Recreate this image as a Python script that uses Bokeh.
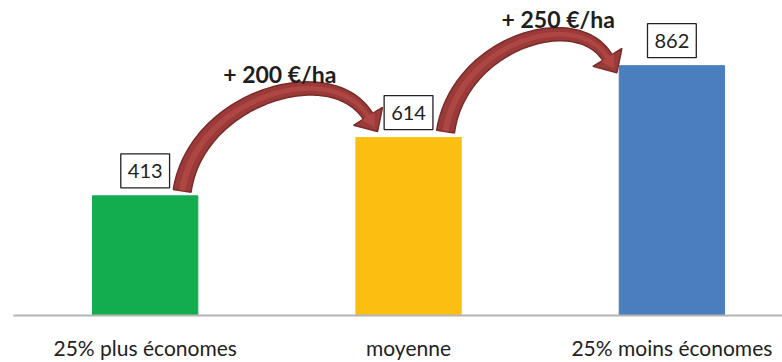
import numpy as np
from bokeh.plotting import figure
from bokeh.models import Range1d, FixedTicker, Label
from bokeh.embed import file_html
from bokeh.resources import INLINE

# --- data -------------------------------------------------------------
categories = ["25% plus économes", "moyenne", "25% moins économes"]
costs = [413, 614, 862]
bar_colors = ["#13AD4F", "#FCBF11", "#4A7EBC"]
gain_labels = ["+ 200 €/ha", "+ 250 €/ha"]

# --- layout -----------------------------------------------------------
W, H = 782, 362
LEFT, BOTTOM = 13, 46
X0, X1 = -0.5, 2.42
Y0, Y1 = 0, 1087
FW, FH = W - LEFT, H - BOTTOM
FONT = "Lato"


def to_data(px, py):
    """screen pixels (y down, frame origin at top-left of canvas) -> data"""
    x = X0 + (np.asarray(px, float) - LEFT) * (X1 - X0) / FW
    y = Y1 - np.asarray(py, float) * (Y1 - Y0) / FH
    return x, y


def to_px(x, y):
    return LEFT + (x - X0) * FW / (X1 - X0), (Y1 - y) * FH / (Y1 - Y0)


def unit(v):
    v = np.asarray(v, float)
    return v / np.linalg.norm(v)


def curved_arrow(S, tip, d0, d1, a, b, w0, w1, head_len, head_half, n=80):
    """Tapered cubic-Bezier arrow outline in screen pixels."""
    S, tip = np.asarray(S, float), np.asarray(tip, float)
    d0, d1 = unit(d0), unit(d1)
    B = tip - d1 * head_len
    P1 = S + a * d0
    P2 = B - b * d1
    t = np.linspace(0, 1, n)[:, None]
    pts = (1 - t) ** 3 * S + 3 * (1 - t) ** 2 * t * P1 + 3 * (1 - t) * t ** 2 * P2 + t ** 3 * B
    der = 3 * (1 - t) ** 2 * (P1 - S) + 6 * (1 - t) * t * (P2 - P1) + 3 * t ** 2 * (B - P2)
    tan = der / np.linalg.norm(der, axis=1)[:, None]
    nrm = np.column_stack([-tan[:, 1], tan[:, 0]])
    half = (w0 + (w1 - w0) * t[:, 0]) / 2
    side_a = pts + nrm * half[:, None]
    side_b = pts - nrm * half[:, None]
    nb = np.array([-d1[1], d1[0]])
    outline = np.vstack([side_a, B + nb * head_half, tip, B - nb * head_half, side_b[::-1]])
    core_a = pts + nrm * (half * 0.35)[:, None]
    core_b = pts - nrm * (half * 0.35)[:, None]
    core = np.vstack([core_a, B + nb * head_half * 0.45, tip - d1 * 5, B - nb * head_half * 0.45, core_b[::-1]])
    apex = pts[np.argmin(pts[:, 1])]
    return outline, core, apex


p = figure(
    width=W, height=H,
    x_range=Range1d(X0, X1), y_range=Range1d(Y0, Y1),
    y_axis_location=None,
    min_border_left=LEFT, min_border_right=0, min_border_top=0, min_border_bottom=BOTTOM,
    output_backend="svg", toolbar_location=None,
)
p.outline_line_color = None
p.xgrid.visible = False
p.ygrid.visible = False
p.background_fill_color = "white"
p.border_fill_color = "white"

idx = list(range(len(categories)))
p.vbar(x=idx, top=costs, width=0.4, color=bar_colors)

ax = p.xaxis[0]
ax.ticker = FixedTicker(ticks=idx)
ax.major_label_overrides = {i: c for i, c in zip(idx, categories)}
ax.axis_line_color = "#B4B4B4"
ax.axis_line_width = 2
ax.major_tick_line_color = None
ax.minor_tick_line_color = None
ax.major_tick_out = 0
ax.major_tick_in = 0
ax.minor_tick_out = 0
ax.minor_tick_in = 0
ax.major_label_standoff = 19
ax.major_label_text_font = FONT
ax.major_label_text_font_size = "21px"
ax.major_label_text_color = "#222222"

# boxed value labels above each bar
for i, v in zip(idx, costs):
    p.add_layout(Label(
        x=i, y=v, y_offset=25, text=str(v),
        text_align="center", text_baseline="middle",
        text_font=FONT, text_font_size="20px", text_color="#222222",
        background_fill_color="white", border_line_color="#222222", border_line_width=1.3,
        padding=dict(left=7, right=7, top=10, bottom=10),
    ))

# curved arrows between consecutive bars: (tail offset, tip offset, bend a, bend b, text shift)
arrow_geom = [
    ((37, -5), (-31, -6), 95, 70, 0),
    ((37, -6), (-55, 7), 90, 60, 27),
]
for k, ((tx, ty), (hx, hy), a, b, shift) in enumerate(arrow_geom):
    cx0, top0 = to_px(idx[k], costs[k])
    cx1, top1 = to_px(idx[k + 1], costs[k + 1])
    S = (cx0 + tx, top0 + ty)
    tip = (cx1 + hx, top1 + hy)
    outline, core, apex = curved_arrow(S, tip, (0.15, -1), (9, 14.5), a, b,
                                       w0=18, w1=11, head_len=18, head_half=17)
    ox, oy = to_data(outline[:, 0], outline[:, 1])
    p.patch(ox, oy, fill_color="#9A3B39", line_color="#7A2A29", line_width=1.5)
    cx, cy = to_data(core[:, 0], core[:, 1])
    p.patch(cx, cy, fill_color="#C0504D", fill_alpha=0.55, line_color=None)
    lx, ly = to_data((S[0] + tip[0]) / 2 + shift, apex[1] - 15)
    p.add_layout(Label(
        x=float(lx), y=float(ly), text=gain_labels[k],
        text_align="center", text_baseline="middle",
        text_font=FONT, text_font_size="23px", text_font_style="bold", text_color="#1E1E1E",
    ))

open("out.html", "w").write(file_html(p, INLINE))
